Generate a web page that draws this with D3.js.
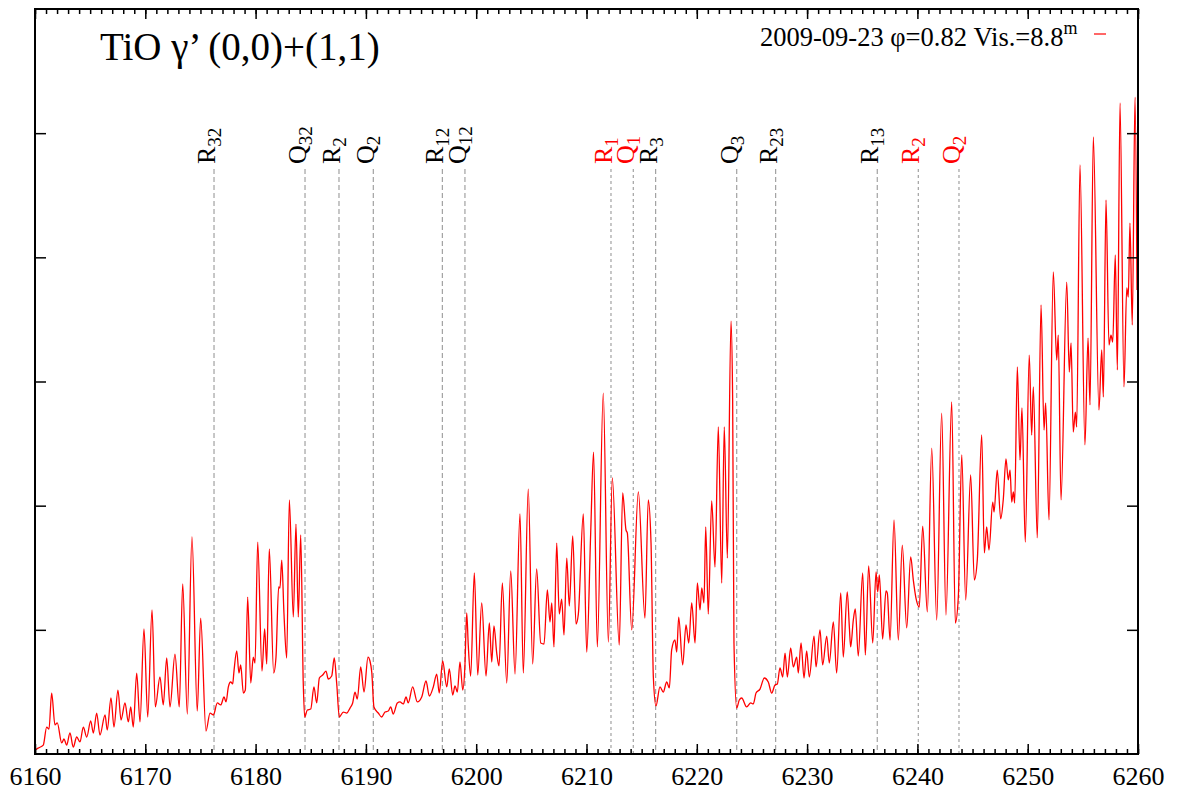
<!DOCTYPE html>
<html><head><meta charset="utf-8">
<script src="https://cdn.jsdelivr.net/npm/d3@7"></script>
<style>body{margin:0;background:#fff}svg{display:block}</style>
</head><body><svg id="c" width="1178" height="798"></svg>
<script>
// Spectrum: [wavelength (Å), relative flux]
const spectrum = [
[6160.00,0.032],[6160.30,0.048],[6160.75,0.072],[6161.06,0.217],[6161.27,0.201],[6161.51,0.491],[6161.81,0.234],[6162.02,0.250],[6162.42,0.089],[6162.63,0.121],
[6162.87,0.072],[6163.17,0.169],[6163.47,0.056],[6163.78,0.137],[6164.08,0.097],[6164.38,0.217],[6164.69,0.137],[6165.05,0.266],[6165.29,0.169],[6165.59,0.330],
[6165.89,0.153],[6166.35,0.314],[6166.55,0.193],[6166.89,0.451],[6167.16,0.217],[6167.52,0.515],[6167.80,0.274],[6168.16,0.411],[6168.46,0.258],[6168.68,0.379],
[6168.91,0.217],[6169.22,0.652],[6169.52,0.258],[6169.88,1.007],[6170.22,0.298],[6170.61,1.160],[6170.91,0.379],[6171.33,0.620],[6171.63,0.395],[6171.94,0.773],
[6172.24,0.379],[6172.69,0.805],[6173.08,0.379],[6173.39,1.369],[6173.81,0.322],[6174.23,1.748],[6174.71,0.346],[6175.02,1.095],[6175.50,0.185],[6175.87,0.330],
[6176.17,0.314],[6176.53,0.411],[6176.84,0.395],[6177.14,0.459],[6177.32,0.419],[6177.53,0.540],[6177.74,0.580],[6177.92,0.564],[6178.04,0.668],[6178.29,0.830],
[6178.49,0.652],[6178.65,0.717],[6178.89,0.491],[6179.07,0.515],[6179.28,1.264],[6179.56,0.572],[6179.79,0.781],[6179.95,0.733],[6180.19,1.707],[6180.58,0.668],
[6180.82,1.007],[6181.01,0.725],[6181.24,1.651],[6181.64,0.652],[6181.85,0.781],[6182.09,1.345],[6182.21,1.337],[6182.37,1.562],[6182.57,1.136],[6182.82,0.773],
[6183.06,2.046],[6183.42,1.103],[6183.66,1.852],[6183.87,1.103],[6184.09,1.764],[6184.32,0.572],[6184.45,0.298],[6184.69,0.354],[6185.00,0.362],[6185.29,0.540],
[6185.54,0.411],[6185.78,0.612],[6186.08,0.636],[6186.38,0.668],[6186.59,0.604],[6186.90,0.628],[6187.13,0.773],[6187.35,0.572],[6187.59,0.298],[6187.95,0.338],
[6188.26,0.330],[6188.56,0.370],[6188.80,0.411],[6189.01,0.499],[6189.22,0.443],[6189.53,0.701],[6189.83,0.499],[6190.19,0.781],[6190.37,0.749],[6190.53,0.660],
[6190.73,0.379],[6191.12,0.330],[6191.43,0.298],[6191.73,0.338],[6192.03,0.346],[6192.25,0.379],[6192.48,0.322],[6192.85,0.411],[6193.09,0.419],[6193.39,0.403],
[6193.64,0.459],[6193.84,0.411],[6194.24,0.540],[6194.66,0.419],[6195.06,0.459],[6195.45,0.588],[6195.75,0.467],[6196.11,0.540],[6196.42,0.644],[6196.65,0.491],
[6196.96,0.749],[6197.33,0.540],[6197.56,0.685],[6197.87,0.475],[6198.08,0.548],[6198.29,0.499],[6198.53,0.741],[6198.78,0.515],[6198.98,0.717],[6199.14,1.136],
[6199.28,0.878],[6199.50,0.628],[6199.83,1.458],[6200.14,0.636],[6200.50,1.216],[6200.89,0.628],[6201.19,1.055],[6201.41,0.741],[6201.61,1.031],[6201.86,0.813],
[6202.07,0.709],[6202.37,1.377],[6202.77,0.572],[6203.13,1.474],[6203.52,0.644],[6203.97,1.933],[6204.27,0.652],[6204.72,2.134],[6205.12,0.725],[6205.48,1.490],
[6205.85,0.894],[6206.15,0.886],[6206.45,1.321],[6206.69,1.063],[6206.85,1.216],[6207.05,0.862],[6207.30,1.699],[6207.53,1.127],[6207.75,1.248],[6207.96,0.958],
[6208.21,1.578],[6208.44,1.192],[6208.75,1.756],[6209.05,1.047],[6209.26,1.127],[6209.71,1.933],[6210.02,0.821],[6210.38,1.780],[6210.64,2.432],[6210.98,0.862],
[6211.52,2.907],[6211.98,0.902],[6212.34,2.223],[6212.97,0.878],[6213.28,2.102],[6213.58,1.804],[6213.70,1.780],[6214.10,0.999],[6214.70,2.110],[6215.30,1.095],
[6215.60,2.046],[6215.85,1.699],[6216.06,0.620],[6216.30,0.387],[6216.66,0.540],[6216.96,0.499],[6217.27,0.580],[6217.51,0.532],[6217.72,0.838],[6218.02,0.918],
[6218.18,0.821],[6218.36,1.103],[6218.72,0.717],[6219.02,1.039],[6219.27,0.894],[6219.54,1.216],[6219.84,0.894],[6220.05,1.377],[6220.29,1.160],[6220.45,1.337],
[6220.65,1.216],[6220.81,1.828],[6221.04,1.127],[6221.35,2.038],[6221.65,1.506],[6221.95,2.634],[6222.26,1.377],[6222.49,2.634],[6222.77,1.578],[6223.10,3.487],
[6223.25,2.851],[6223.37,0.894],[6223.62,0.370],[6223.85,0.435],[6224.07,0.451],[6224.52,0.379],[6224.89,0.411],[6225.12,0.403],[6225.37,0.491],[6225.73,0.523],
[6226.12,0.612],[6226.48,0.580],[6226.79,0.491],[6227.09,0.556],[6227.30,0.564],[6227.54,0.693],[6227.79,0.620],[6228.00,0.813],[6228.21,0.620],[6228.51,0.854],
[6228.75,0.701],[6229.06,0.781],[6229.20,0.652],[6229.45,0.894],[6229.72,0.612],[6229.96,0.830],[6230.20,0.620],[6230.63,0.950],[6230.81,0.701],[6231.17,0.999],
[6231.41,0.717],[6231.78,0.950],[6232.01,0.733],[6232.38,1.063],[6232.68,0.652],[6233.05,1.297],[6233.28,0.781],[6233.64,1.305],[6233.83,1.023],[6233.95,0.862],
[6234.19,1.079],[6234.37,1.168],[6234.64,0.789],[6235.04,1.458],[6235.28,0.797],[6235.58,1.514],[6235.95,0.894],[6236.25,1.466],[6236.40,1.305],[6236.55,1.442],
[6236.85,0.926],[6237.15,1.313],[6237.27,1.297],[6237.52,0.918],[6237.88,1.885],[6238.27,0.918],[6238.63,1.683],[6239.03,1.015],[6239.39,1.587],[6239.63,1.401],
[6239.87,1.256],[6240.17,1.184],[6240.48,1.836],[6240.90,1.144],[6241.30,2.464],[6241.75,1.079],[6242.20,2.746],[6242.59,1.119],[6243.11,2.835],[6243.44,1.055],
[6243.71,1.264],[6244.02,2.408],[6244.38,1.240],[6244.83,2.247],[6245.16,1.401],[6245.43,1.562],[6245.83,2.569],[6246.07,1.619],[6246.28,1.828],[6246.49,1.643],
[6246.83,2.029],[6246.95,1.949],[6247.24,2.287],[6247.55,1.893],[6247.79,2.054],[6248.03,2.376],[6248.24,2.207],[6248.40,2.287],[6248.55,2.029],[6248.70,2.110],
[6248.82,2.021],[6249.06,3.117],[6249.30,2.368],[6249.48,2.787],[6249.78,1.707],[6250.14,3.213],[6250.36,2.569],[6250.51,2.956],[6250.87,1.740],[6251.21,3.616],
[6251.48,2.609],[6251.63,2.827],[6251.93,1.885],[6252.32,3.882],[6252.63,3.173],[6252.77,3.374],[6253.02,2.046],[6253.54,3.801],[6253.77,3.076],[6253.93,3.310],
[6254.13,2.593],[6254.32,2.754],[6254.44,2.633],[6254.74,4.744],[6255.19,2.489],[6255.47,3.350],[6255.65,2.811],[6255.95,4.969],[6256.46,2.770],[6256.71,3.254],
[6256.86,2.875],[6257.10,4.462],[6257.37,3.294],[6257.55,3.374],[6257.71,3.318],[6257.94,4.019],[6258.13,3.093],[6258.37,5.243],[6258.73,2.956],[6258.98,3.753],
[6259.12,3.680],[6259.27,4.276],[6259.48,3.455],[6259.73,5.291],[6259.91,3.737]
];

// Line identifications
const markerWl   = [6176.23, 6184.48, 6187.56, 6190.67, 6196.93, 6198.98, 6212.22, 6214.24, 6216.27, 6223.62, 6227.15, 6236.36, 6240.08, 6243.77];
const markerMain = ["R","Q","R","Q","R","Q","R","Q","R","Q","R","R","R","Q"];
const markerSub  = ["32","32","2","2","12","12","1","1","3","3","23","13","2","2"];
const markerBand = ["(0,0)","(0,0)","(0,0)","(0,0)","(0,0)","(0,0)","(1,1)","(1,1)","(0,0)","(0,0)","(0,0)","(0,0)","(1,1)","(1,1)"];

const xTicks = [6160,6170,6180,6190,6200,6210,6220,6230,6240,6250,6260];
const yTicks = [1,2,3,4,5];
const titleText = "TiO γ’ (0,0)+(1,1)";
const legendText = "2009-09-23 φ=0.82 Vis.=8.8";

const L = 35, R = 1138, T = 9, B = 754;
const svg = d3.select("#c");
const x = d3.scaleLinear().domain([6160,6260]).range([L,R]);
const y = d3.scaleLinear().domain([0,6]).range([B,T]);
const serif = "'Liberation Serif','DejaVu Serif',serif";
const bandColor = d3.scaleOrdinal().domain(["(0,0)","(1,1)"]).range(["#000","#ff0000"]);
const bandDash = d3.scaleOrdinal().domain(["(0,0)","(1,1)"]).range(["5,3","3,3"]);

svg.append("defs").append("clipPath").attr("id","clip")
  .append("rect").attr("x",L).attr("y",T).attr("width",R-L).attr("height",B-T);

// marker lines
const mk = svg.append("g");
markerWl.forEach((w,i)=>{
  mk.append("line").attr("x1",x(w)).attr("x2",x(w)).attr("y1",169).attr("y2",B)
    .attr("stroke","#999").attr("stroke-width",1.1).attr("stroke-dasharray",bandDash(markerBand[i]));
  const t = mk.append("text").attr("transform",`translate(${x(w)+1},164) rotate(-90)`)
    .attr("font-family",serif).attr("font-size",26).attr("fill",bandColor(markerBand[i]));
  t.append("tspan").text(markerMain[i]);
  t.append("tspan").attr("font-size",19).attr("dy",6).text(markerSub[i]);
});

// spectrum
const line = d3.line().x(d=>x(d[0])).y(d=>y(d[1])).curve(d3.curveMonotoneX);
svg.append("path").datum(spectrum).attr("clip-path","url(#clip)")
  .attr("fill","none").attr("stroke","#ff0000").attr("stroke-width",1.3).attr("d",line);

// axes
const minor = d3.range(6160,6261,1);
function tickAxis(axis, vals, size, tr){
  const g = svg.append("g").attr("transform",tr).call(axis.tickValues(vals).tickSize(size).tickFormat(""));
  g.select(".domain").remove();
  g.selectAll("line").attr("stroke","#000").attr("stroke-width",1.5);
  return g;
}
tickAxis(d3.axisBottom(x), minor, -5, `translate(0,${B})`);
tickAxis(d3.axisTop(x), minor, -5, `translate(0,${T})`);
tickAxis(d3.axisTop(x), xTicks, -10, `translate(0,${T})`);
tickAxis(d3.axisLeft(y), yTicks, -11, `translate(${L},0)`);
tickAxis(d3.axisRight(y), yTicks, -11, `translate(${R},0)`);
const gx = svg.append("g").attr("transform",`translate(0,${B})`)
  .call(d3.axisBottom(x).tickValues(xTicks).tickSize(-10).tickPadding(13).tickFormat(d3.format("d")));
gx.select(".domain").remove();
gx.selectAll("line").attr("stroke","#000").attr("stroke-width",1.5);
gx.selectAll("text").attr("font-family",serif).attr("font-size",26).attr("fill","#000");

svg.append("rect").attr("x",L).attr("y",T).attr("width",R-L).attr("height",B-T)
  .attr("fill","none").attr("stroke","#000").attr("stroke-width",2);

// title
svg.append("text").attr("x",100).attr("y",60).attr("font-family",serif).attr("font-size",39)
  .attr("fill","#000").text(titleText);

// legend
const lg = svg.append("text").attr("x",760).attr("y",46).attr("font-family",serif).attr("font-size",26.5).attr("fill","#000");
lg.append("tspan").text(legendText);
lg.append("tspan").attr("font-size",18).attr("dy",-12).text("m");
svg.append("line").attr("x1",1094).attr("x2",1106).attr("y1",34).attr("y2",34)
  .attr("stroke","#ff0000").attr("stroke-width",1.2);
</script></body></html>
